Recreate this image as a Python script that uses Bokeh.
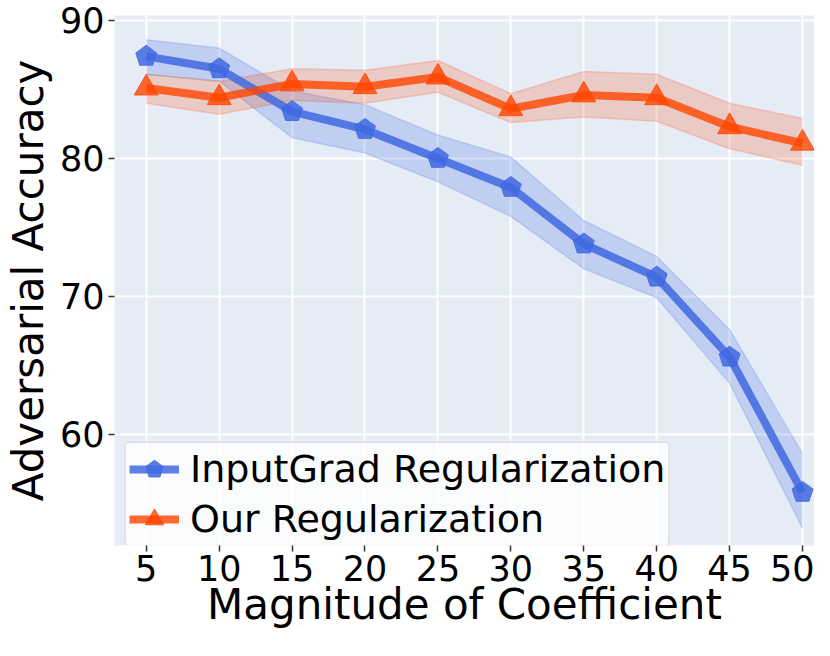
from bokeh.plotting import figure
from bokeh.models import Range1d, FixedTicker, Legend, LegendItem
from bokeh.embed import file_html
from bokeh.resources import INLINE

coef = [5, 10, 15, 20, 25, 30, 35, 40, 45, 50]

inputgrad_mean = [87.4, 86.5, 83.4, 82.1, 80.0, 77.9, 73.8, 71.4, 65.6, 55.8]
inputgrad_upper = [88.6, 88.0, 84.9, 83.9, 81.7, 80.1, 75.5, 72.9, 67.6, 58.6]
inputgrad_lower = [86.1, 85.6, 81.5, 80.4, 78.3, 75.8, 72.0, 69.9, 63.7, 53.2]

ours_mean = [85.1, 84.4, 85.4, 85.2, 85.9, 83.6, 84.6, 84.4, 82.3, 81.1]
ours_upper = [86.1, 85.6, 86.5, 86.4, 87.1, 84.7, 86.3, 86.1, 84.0, 82.9]
ours_lower = [84.0, 83.2, 84.2, 84.0, 84.8, 82.6, 83.0, 82.7, 80.7, 79.5]

x_ticks = [5, 10, 15, 20, 25, 30, 35, 40, 45, 50]
y_ticks = [60, 70, 80, 90]

BLUE = "#4169E1"
ORANGE = "#FF4500"
FONT = "DejaVu Sans"

p = figure(width=814, height=640, output_backend="svg", toolbar_location=None,
           x_range=Range1d(2.825, 50.82), y_range=Range1d(51.95, 90.36),
           min_border_left=108, min_border_right=0, min_border_top=15, min_border_bottom=95)
p.background_fill_color = "#E5ECF6"
p.border_fill_color = "white"
p.outline_line_color = None

for ax in (p.xaxis, p.yaxis):
    ax.axis_line_color = None
    ax.major_tick_line_color = "#333333"
    ax.major_tick_line_width = 1.5
    ax.major_tick_out = 6
    ax.major_tick_in = 0
    ax.minor_tick_line_color = None
    ax.major_label_text_font = FONT
    ax.major_label_text_font_size = "35px"
    ax.major_label_text_color = "black"
    ax.axis_label_text_font = FONT
    ax.axis_label_text_font_size = "42px"
    ax.axis_label_text_font_style = "normal"
    ax.axis_label_text_color = "black"

p.xaxis.ticker = FixedTicker(ticks=x_ticks)
p.yaxis.ticker = FixedTicker(ticks=y_ticks)
p.xaxis.axis_label = "Magnitude of Coefficient"
p.yaxis.axis_label = "Adversarial Accuracy"
p.xaxis.major_label_standoff = 3
p.yaxis.major_label_standoff = 4
p.xaxis.axis_label_standoff = -4
p.yaxis.axis_label_standoff = 4

p.xgrid.grid_line_color = "white"
p.ygrid.grid_line_color = "white"
p.xgrid.grid_line_width = 2
p.ygrid.grid_line_width = 2

# bands
p.varea(x=coef, y1=inputgrad_lower, y2=inputgrad_upper, fill_color=BLUE, fill_alpha=0.22)
p.line(coef, inputgrad_upper, line_color=BLUE, line_alpha=0.2, line_width=1.5)
p.line(coef, inputgrad_lower, line_color=BLUE, line_alpha=0.2, line_width=1.5)
p.varea(x=coef, y1=ours_lower, y2=ours_upper, fill_color=ORANGE, fill_alpha=0.2)
p.line(coef, ours_upper, line_color=ORANGE, line_alpha=0.2, line_width=1.5)
p.line(coef, ours_lower, line_color=ORANGE, line_alpha=0.2, line_width=1.5)

# lines
l1 = p.line(coef, inputgrad_mean, line_color=BLUE, line_alpha=0.85, line_width=8)
try:
    m1 = p.ngon(x=coef, y=inputgrad_mean, radius=11, radius_units="screen", n=5,
                fill_color=BLUE, fill_alpha=0.85, line_color=BLUE, line_alpha=0.85)
except Exception:
    m1 = p.scatter(coef, inputgrad_mean, marker="hex", size=20,
                   fill_color=BLUE, fill_alpha=0.85, line_color=BLUE, line_alpha=0.85)
l2 = p.line(coef, ours_mean, line_color=ORANGE, line_alpha=0.8, line_width=8)
m2 = p.scatter(coef, ours_mean, marker="triangle", size=24,
               fill_color=ORANGE, fill_alpha=0.8, line_color=ORANGE, line_alpha=0.8)

legend = Legend(items=[LegendItem(label="InputGrad Regularization", renderers=[l1, m1]),
                       LegendItem(label="Our Regularization", renderers=[l2, m2])],
                location=(10, -2))
legend.margin = 0
legend.label_text_font = FONT
legend.label_text_font_size = "38px"
legend.label_text_color = "black"
legend.glyph_width = 50
legend.glyph_height = 46
legend.label_height = 46
legend.spacing = 4
legend.padding = 3
legend.label_standoff = 11
legend.background_fill_color = "white"
legend.background_fill_alpha = 0.8
legend.border_line_color = "#cccccc"
legend.border_line_width = 2
if "border_radius" in Legend.properties():
    legend.border_radius = 5
p.add_layout(legend, "center")

open("out.html", "w").write(file_html(p, INLINE))
